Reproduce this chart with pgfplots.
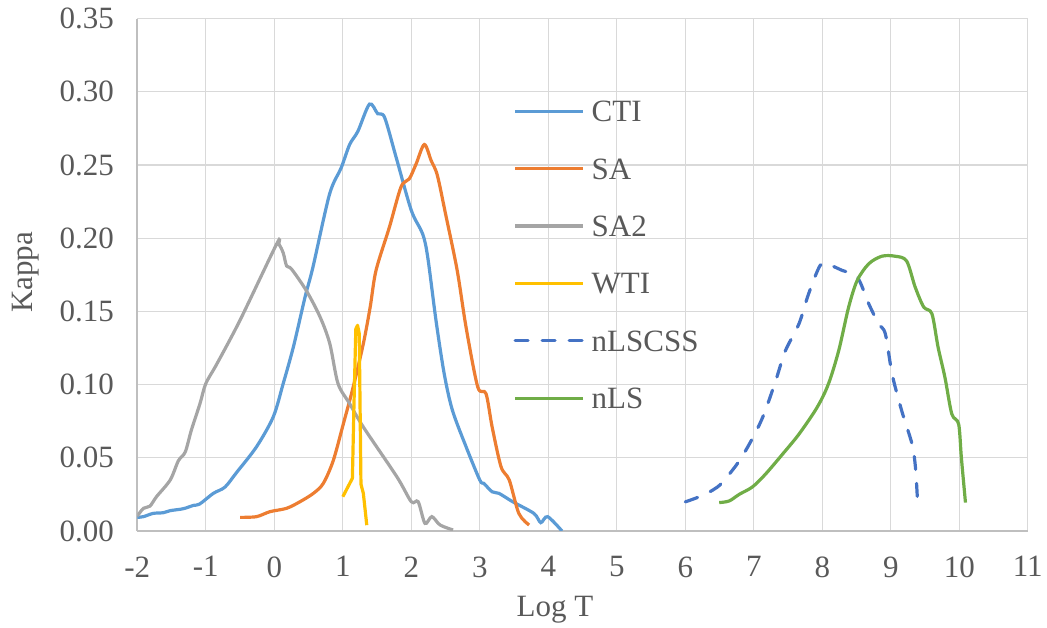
\documentclass[border=0pt]{standalone}
\usepackage{pgfplots}
\pgfplotsset{compat=1.18}
\usepackage{fontspec}
\setmainfont{Liberation Serif}
\definecolor{ctic}{HTML}{5B9BD5}
\definecolor{sac}{HTML}{ED7D31}
\definecolor{sa2c}{HTML}{A5A5A5}
\definecolor{wtic}{HTML}{FFC000}
\definecolor{nlscssc}{HTML}{4472C4}
\definecolor{nlsc}{HTML}{70AD47}
\definecolor{gridc}{HTML}{D9D9D9}
\definecolor{axisc}{HTML}{BFBFBF}
\definecolor{textc}{HTML}{595959}
\newcommand{\bigf}{\fontsize{31}{37}\selectfont}
\begin{document}
\begin{tikzpicture}
\begin{axis}[
  scale only axis, width=890.5pt, height=512.4pt,
  at={(0,0)}, anchor=south west,
  xmin=-2, xmax=11, ymin=0, ymax=0.35,
  xtick={-2,-1,0,1,2,3,4,5,6,7,8,9,10,11},
  ytick={0,0.05,0.10,0.15,0.20,0.25,0.30,0.35},
  yticklabel style={/pgf/number format/fixed, /pgf/number format/fixed zerofill, /pgf/number format/precision=2},
  /pgf/number format/assume math mode=true,
  grid=major, major grid style={draw=gridc, line width=1.3pt},
  axis x line*=bottom, axis y line*=left,
  axis line style={draw=axisc, line width=1.6pt, -},
  tick style={draw=none},
  tick label style={font=\bigf, text=textc},
  xticklabel style={yshift=-22pt},
  yticklabel style={xshift=-20pt},
  xlabel={Log T}, ylabel={Kappa},
  label style={font=\bigf, text=textc},
  xlabel style={at={(axis description cs:0.469,0)}, anchor=base, yshift=-86pt},
  ylabel style={at={(axis description cs:-0.1179,0.505)}, anchor=base},
  legend style={at={(axis cs:3.489,0.294)}, anchor=north west, draw=none, fill=none,
    font=\bigf, text=textc, inner sep=0pt, row sep=36.4pt, column sep=7pt,
    nodes={inner sep=0pt, text height=21pt, text depth=0pt}},
  legend cell align=left,
  legend image code/.code={\draw[#1] (0pt,0pt) -- (68pt,0pt);},
  every axis plot/.append style={line width=3.2pt},
]
\addplot[ctic, smooth] coordinates {(-2,0.0093) (-1.91,0.0098) (-1.77,0.012) (-1.62,0.0125) (-1.52,0.0139) (-1.33,0.0152) (-1.18,0.0175) (-1.09,0.0184) (-0.89,0.0257) (-0.72,0.030) (-0.55,0.040) (-0.26,0.0575) (-0.015,0.078) (0.13,0.1007) (0.28,0.126) (0.45,0.16) (0.563,0.180) (0.806,0.230) (0.976,0.248) (1.10,0.264) (1.22,0.273) (1.39,0.2916) (1.51,0.285) (1.61,0.2825) (1.78,0.255) (2.0,0.219) (2.165,0.203) (2.24,0.187) (2.36,0.144) (2.48,0.1075) (2.60,0.0825) (2.80,0.0575) (3.0,0.0348) (3.06,0.0325) (3.18,0.0268) (3.28,0.0257) (3.48,0.020) (3.79,0.012) (3.89,0.0057) (3.99,0.0098) (4.20,0.0)};
\addlegendentry{CTI}
\addplot[sac, smooth] coordinates {(-0.50,0.0093) (-0.26,0.0098) (-0.063,0.0132) (0.18,0.0155) (0.375,0.020) (0.57,0.0257) (0.715,0.0325) (0.86,0.048) (1.007,0.073) (1.15,0.098) (1.30,0.128) (1.40,0.153) (1.485,0.178) (1.68,0.2075) (1.85,0.235) (1.97,0.2405) (2.07,0.2507) (2.19,0.264) (2.29,0.253) (2.38,0.243) (2.50,0.2166) (2.67,0.178) (2.80,0.139) (2.97,0.0984) (3.09,0.0939) (3.18,0.0711) (3.31,0.0439) (3.43,0.0348) (3.57,0.012) (3.72,0.0041)};
\addlegendentry{SA}
\addplot[sa2c, smooth] coordinates {(-2,0.0102) (-1.91,0.0155) (-1.815,0.017) (-1.72,0.0234) (-1.52,0.0348) (-1.40,0.048) (-1.30,0.054) (-1.21,0.069) (-1.085,0.087) (-1.0,0.1007) (-0.84,0.114) (-0.50,0.144) (0.034,0.196) (0.07,0.1957) (0.13,0.19) (0.18,0.181) (0.25,0.179) (0.47,0.164) (0.67,0.146) (0.81,0.128) (0.93,0.1007) (1.10,0.087) (1.30,0.071) (1.79,0.037) (2.0,0.020) (2.10,0.020) (2.20,0.0052) (2.30,0.0098) (2.42,0.0041) (2.61,0.0007)};
\addlegendentry{SA2}
\addplot[wtic, line join=round] coordinates {(1.0,0.0234) (1.14,0.036) (1.165,0.09) (1.19,0.138) (1.215,0.1405) (1.24,0.135) (1.265,0.032) (1.30,0.0257) (1.35,0.004)};
\addlegendentry{WTI}
\addplot[nlscssc, smooth, line cap=round, dash pattern=on 13pt off 14pt] coordinates {(6.0,0.0199) (6.20,0.0233) (6.40,0.0279) (6.54,0.0331) (6.79,0.048) (7.0,0.065) (7.15,0.080) (7.32,0.1027) (7.46,0.123) (7.66,0.1416) (7.80,0.162) (7.97,0.1815) (8.09,0.182) (8.29,0.178) (8.51,0.1735) (8.68,0.155) (8.82,0.1416) (8.92,0.1347) (9.02,0.107) (9.16,0.082) (9.31,0.0594) (9.36,0.0434) (9.39,0.0205)};
\addlegendentry{nLSCSS}
\addplot[nlsc, smooth] coordinates {(6.495,0.0194) (6.64,0.0205) (6.79,0.0251) (6.98,0.0301) (7.17,0.0388) (7.42,0.0525) (7.66,0.0662) (7.925,0.0845) (8.09,0.1005) (8.24,0.1233) (8.385,0.153) (8.51,0.1712) (8.68,0.1826) (8.87,0.1877) (9.06,0.1877) (9.23,0.1845) (9.355,0.1667) (9.48,0.153) (9.60,0.1484) (9.69,0.1256) (9.79,0.105) (9.89,0.080) (9.99,0.0731) (10.03,0.0502) (10.09,0.0194)};
\addlegendentry{nLS}
\end{axis}
\pgfresetboundingbox
\useasboundingbox (-137.3pt,-97pt) rectangle (909.7pt,531pt);
\end{tikzpicture}
\end{document}
